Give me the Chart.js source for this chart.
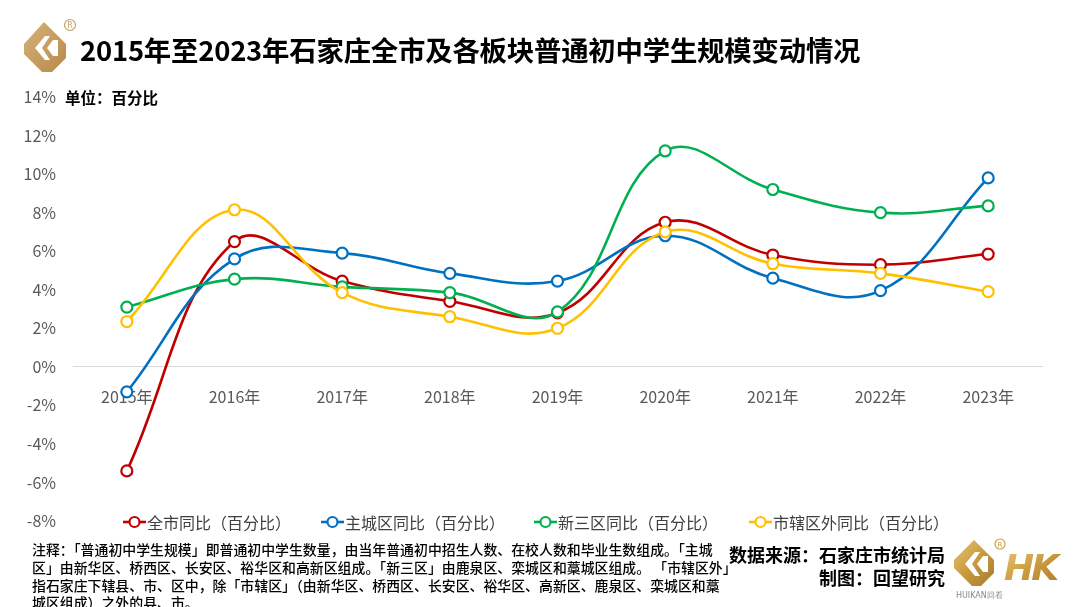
<!DOCTYPE html>
<html><head><meta charset="utf-8">
<script src="https://cdn.jsdelivr.net/npm/chart.js@4.4.0/dist/chart.umd.min.js"></script>
<style>
html,body{margin:0;padding:0;background:#fff;}
body{width:1080px;height:607px;position:relative;overflow:hidden;font-family:"Noto Sans CJK SC","Noto Sans",sans-serif;}
#c{position:absolute;left:0;top:0;}
.abs{position:absolute;white-space:nowrap;}
#title{left:80px;top:29px;font-size:27.4px;font-weight:700;color:#000;letter-spacing:-0.2px;}
#unit{left:65px;top:86px;font-size:15.5px;font-weight:700;color:#000;}
#legend{left:0;top:510px;font-size:16px;color:#404040;}
.li{position:absolute;top:0;display:flex;align-items:center;white-space:nowrap;}
#note{left:32px;top:541px;font-size:13.9px;line-height:17.8px;color:#000;font-weight:500;}
#src{right:135px;top:543px;font-size:18px;font-weight:700;color:#000;text-align:right;line-height:23px;}
</style></head>
<body>
<canvas id="c" width="1080" height="607"></canvas>
<svg class="abs" style="left:18px;top:16px" width="62" height="60" viewBox="0 0 62 60">
 <defs><linearGradient id="g1" x1="0" y1="0" x2="1" y2="1"><stop offset="0" stop-color="#d6b27a"/><stop offset="1" stop-color="#b8894a"/></linearGradient></defs>
 <path d="M26 6 L48 28 L48 42 L34 56 L24 56 L6 38 L6 28 Z" fill="url(#g1)"/>
 <path d="M27 20 L17 32 L27 44 L32 44 L24 32 L32 20 Z" fill="#fff"/>
 <path d="M35 24 L29 32 L35 40 L40 40 L40 24 Z" fill="#fff"/>
 <circle cx="52" cy="9" r="5.5" fill="none" stroke="#c9a066" stroke-width="1.2"/>
 <text x="52" y="12" font-size="8" text-anchor="middle" fill="#c9a066" font-family="DejaVu Sans">R</text>
</svg>
<div id="title" class="abs">2015年至2023年石家庄全市及各板块普通初中学生规模变动情况</div>
<div id="unit" class="abs">单位：百分比</div>
<div id="legend" class="abs"></div>
<div id="note" class="abs">注释：「普通初中学生规模」即普通初中学生数量，由当年普通初中招生人数、在校人数和毕业生数组成。「主城<br>区」由新华区、桥西区、长安区、裕华区和高新区组成。「新三区」由鹿泉区、栾城区和藁城区组成。 「市辖区外」<br>指石家庄下辖县、市、区中，除「市辖区」（由新华区、桥西区、长安区、裕华区、高新区、鹿泉区、栾城区和藁<br>城区组成）之外的县、市。</div>
<div id="src" class="abs">数据来源：石家庄市统计局<br>制图：回望研究</div>
<svg class="abs" style="left:950px;top:536px" width="118" height="68" viewBox="0 0 118 68">
 <defs><linearGradient id="g2" x1="0" y1="0" x2="1" y2="1"><stop offset="0" stop-color="#e8c77a"/><stop offset="0.5" stop-color="#c99a3c"/><stop offset="1" stop-color="#a67a2e"/></linearGradient></defs>
 <path d="M24 4 L44 24 L44 37 L31 50 L22 50 L4 32 L4 24 Z" fill="url(#g2)"/>
 <path d="M25 16 L15 28 L25 40 L30 40 L22 28 L30 16 Z" fill="#fff"/>
 <path d="M33 20 L27 28 L33 36 L38 36 L38 20 Z" fill="#fff"/>
 <circle cx="50" cy="8" r="5" fill="none" stroke="#c99a3c" stroke-width="1.1"/>
 <text x="50" y="11" font-size="7" text-anchor="middle" fill="#c99a3c" font-family="DejaVu Sans">R</text>
 <text x="54" y="44" font-size="36" font-style="italic" font-weight="700" fill="url(#g2)" font-family="Liberation Sans Narrow, DejaVu Sans" letter-spacing="-3">HK</text>
 <text x="6" y="62" font-size="8" fill="#888" font-family="DejaVu Sans">HUIKAN回看</text>
</svg>
<script>
const categories = ['2015年','2016年','2017年','2018年','2019年','2020年','2021年','2022年','2023年'];
const cityAll    = [-5.4, 6.5, 4.45, 3.4, 2.8, 7.5, 5.8, 5.3, 5.85];
const mainUrban  = [-1.3, 5.6, 5.9, 4.85, 4.45, 6.8, 4.6, 3.95, 9.8];
const newThree   = [3.1, 4.55, 4.15, 3.85, 2.85, 11.2, 9.2, 8.0, 8.35];
const outerArea  = [2.35, 8.15, 3.85, 2.6, 2.0, 7.0, 5.35, 4.85, 3.9];
const seriesNames = ['全市同比（百分比）','主城区同比（百分比）','新三区同比（百分比）','市辖区外同比（百分比）'];
const seriesColors = ['#C00000','#0070C0','#00B050','#FFC000'];
const yTicks = [14,12,10,8,6,4,2,0,-2,-4,-6,-8];

const seriesData = [cityAll, mainUrban, newThree, outerArea];
const datasets = seriesData.map((d,i)=>({
  label: seriesNames[i], data: d,
  borderColor: seriesColors[i], backgroundColor:'#fff',
  pointBackgroundColor:'#fff', pointBorderColor: seriesColors[i],
  pointRadius:5.5, pointBorderWidth:2.2, borderWidth:2.6,
  tension:0.4, fill:false
}));
datasets.reverse();

// legend
const legendX = [122, 320, 533, 748];
const lg = document.getElementById('legend');
seriesNames.forEach((n,i)=>{
  const d=document.createElement('div'); d.className='li'; d.style.left=legendX[i]+'px';
  d.innerHTML='<svg width="25" height="22"><line x1="1" y1="11" x2="24" y2="11" stroke="'+seriesColors[i]+'" stroke-width="2.6"/><circle cx="12.5" cy="11" r="5" fill="#fff" stroke="'+seriesColors[i]+'" stroke-width="2.2"/></svg><span>'+n+'</span>';
  lg.appendChild(d);
});

new Chart(document.getElementById('c'), {
  type:'line',
  data:{labels:categories, datasets},
  options:{
    responsive:false, animation:false,
    layout:{padding:{top:97,bottom:86,right:38,left:0}},
    plugins:{legend:{display:false},tooltip:{enabled:false}},
    scales:{
      x:{position:{y:0}, offset:true,
        grid:{display:false, drawTicks:false},
        border:{display:true,color:'#d9d9d9',width:1},
        ticks:{color:'#595959',font:{size:16,family:'"Noto Sans CJK SC"'},padding:21,maxRotation:0}
      },
      y:{min:-8,max:14,
        afterFit:(s)=>{s.width=73;},
        afterBuildTicks:(s)=>{s.ticks=yTicks.map(v=>({value:v}));},
        grid:{display:false},border:{display:false},
        ticks:{color:'#595959',font:{size:16,family:'"Noto Sans CJK SC"'},padding:9,callback:v=>v+'%'}
      }
    }
  }
});
</script>
</body></html>
